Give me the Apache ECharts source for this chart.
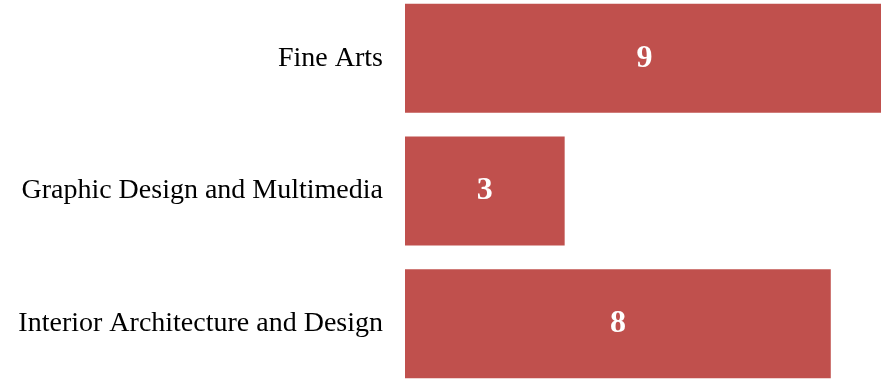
<!DOCTYPE html>
<html>
<head>
<meta charset="utf-8">
<script src="https://cdn.jsdelivr.net/npm/echarts@6/dist/echarts.min.js"></script>
<style>
  html, body { margin: 0; padding: 0; background: #fff; overflow: hidden; }
  /* the reference crops the plot slightly at the edges */
  #main { width: 884px; height: 398px; position: relative; top: -8px; }
</style>
</head>
<body>
<div id="main"></div>
<script>
// categories listed bottom-to-top (category axis on y starts from the bottom)
var categories = ['Interior Architecture and Design', 'Graphic Design and Multimedia', 'Fine Arts'];
var counts = [8, 3, 9];

var chart = echarts.init(document.getElementById('main'));

var option = {
  animation: false,
  grid: {
    left: 405,
    right: 0,
    top: 0,
    bottom: 0,
    containLabel: false
  },
  xAxis: {
    type: 'value',
    min: 0,
    max: 9,
    show: false
  },
  yAxis: {
    type: 'category',
    data: categories,
    axisLine: { show: false },
    axisTick: { show: false },
    axisLabel: {
      margin: 22,
      fontFamily: 'Liberation Serif',
      fontSize: 28,
      color: '#000'
    }
  },
  series: [{
    type: 'bar',
    data: counts,
    barWidth: 109,
    itemStyle: { color: '#C0504D' },
    label: {
      show: true,
      position: 'inside',
      color: '#fff',
      fontFamily: 'Liberation Serif',
      fontWeight: 'bold',
      fontSize: 32
    }
  }]
};
chart.setOption(option);
</script>
</body>
</html>
